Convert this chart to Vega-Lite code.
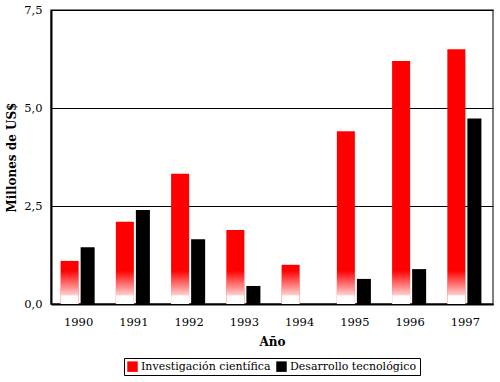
{
  "$schema": "https://vega.github.io/schema/vega-lite/v6.json",
  "width": 442,
  "height": 294,
  "autosize": {"type": "none"},
  "padding": {"left": 51, "top": 10, "right": 7, "bottom": 78},
  "background": "white",
  "config": {
    "font": "DejaVu Serif",
    "axis": {"labelFont": "DejaVu Serif", "titleFont": "DejaVu Serif"},
    "legend": {"labelFont": "DejaVu Serif"},
    "view": {"stroke": "#555555", "strokeWidth": 1.5}
  },
  "data": {
    "values": [
      {"year": "1990", "serie": "Investigación científica", "value": 1.1},
      {"year": "1990", "serie": "Desarrollo tecnológico", "value": 1.45},
      {"year": "1991", "serie": "Investigación científica", "value": 2.1},
      {"year": "1991", "serie": "Desarrollo tecnológico", "value": 2.4},
      {"year": "1992", "serie": "Investigación científica", "value": 3.32},
      {"year": "1992", "serie": "Desarrollo tecnológico", "value": 1.65},
      {"year": "1993", "serie": "Investigación científica", "value": 1.89},
      {"year": "1993", "serie": "Desarrollo tecnológico", "value": 0.46},
      {"year": "1994", "serie": "Investigación científica", "value": 1.0},
      {"year": "1994", "serie": "Desarrollo tecnológico", "value": 0},
      {"year": "1995", "serie": "Investigación científica", "value": 4.41},
      {"year": "1995", "serie": "Desarrollo tecnológico", "value": 0.64},
      {"year": "1996", "serie": "Investigación científica", "value": 6.2},
      {"year": "1996", "serie": "Desarrollo tecnológico", "value": 0.89},
      {"year": "1997", "serie": "Investigación científica", "value": 6.5},
      {"year": "1997", "serie": "Desarrollo tecnológico", "value": 4.73}
    ]
  },
  "encoding": {
    "x": {
      "field": "year",
      "type": "ordinal",
      "scale": {"paddingInner": 0.42, "paddingOuter": 0.21},
      "axis": {
        "title": "Año",
        "labelAngle": 0,
        "ticks": false,
        "domainColor": "black",
        "domainWidth": 2,
        "labelFontSize": 11.5,
        "labelColor": "black",
        "labelPadding": 12,
        "titleFontSize": 12,
        "titleFontWeight": "bold",
        "titleColor": "black",
        "titlePadding": 9
      }
    },
    "xOffset": {
      "field": "serie",
      "type": "nominal",
      "scale": {"domain": ["Investigación científica", "Desarrollo tecnológico"]}
    }
  },
  "layer": [
    {
      "transform": [{"filter": "datum.serie == 'Investigación científica'"}],
      "mark": {"type": "bar", "width": {"band": 1.125}},
      "encoding": {
        "y": {
          "field": "value",
          "type": "quantitative",
          "scale": {"domain": [0, 7.5], "nice": false},
          "axis": {
            "title": "Millones de US$",
            "values": [0, 2.5, 5, 7.5],
            "labelExpr": "replace(format(datum.value, '.1f'), '.', ',')",
            "gridColor": "black",
            "gridWidth": 1,
            "gridOpacity": 1,
            "ticks": false,
            "domainColor": "black",
            "domainWidth": 2,
            "labelFontSize": 11.5,
            "labelColor": "black",
            "labelPadding": 9,
            "titleFontSize": 12,
            "titleFontWeight": "bold",
            "titleColor": "black",
            "titlePadding": 5
          }
        },
        "color": {
          "field": "serie",
          "type": "nominal",
          "scale": {
            "domain": ["Investigación científica", "Desarrollo tecnológico"],
            "range": ["#ff0000", "#000000"]
          },
          "legend": {
            "title": null,
            "orient": "none",
            "legendX": 73,
            "legendY": 348,
            "direction": "horizontal",
            "strokeColor": "black",
            "padding": 3,
            "symbolType": "square",
            "symbolSize": 110,
            "symbolStrokeWidth": 0,
            "symbolOpacity": 1,
            "labelFontSize": 11,
            "labelColor": "black",
            "columnPadding": 5,
            "labelOffset": 3
          }
        }
      }
    },
    {
      "transform": [{"filter": "datum.serie == 'Investigación científica'"}],
      "mark": {
        "type": "bar",
        "width": {"band": 1.125},
        "color": {
          "gradient": "linear",
          "x1": 0, "y1": 0, "x2": 0, "y2": 1,
          "stops": [
            {"offset": 0, "color": "rgba(255,255,255,0)"},
            {"offset": 0.72, "color": "rgba(255,255,255,0.8)"},
            {"offset": 0.76, "color": "rgba(255,255,255,1)"},
            {"offset": 1, "color": "rgba(255,255,255,1)"}
          ]
        }
      },
      "encoding": {
        "y": {"datum": 0.85, "type": "quantitative"},
        "y2": {"datum": 0}
      }
    },
    {
      "transform": [{"filter": "datum.serie == 'Desarrollo tecnológico'"}],
      "mark": {"type": "bar", "width": {"band": 0.875}},
      "encoding": {
        "y": {"field": "value", "type": "quantitative"},
        "color": {"field": "serie", "type": "nominal"}
      }
    }
  ]
}
